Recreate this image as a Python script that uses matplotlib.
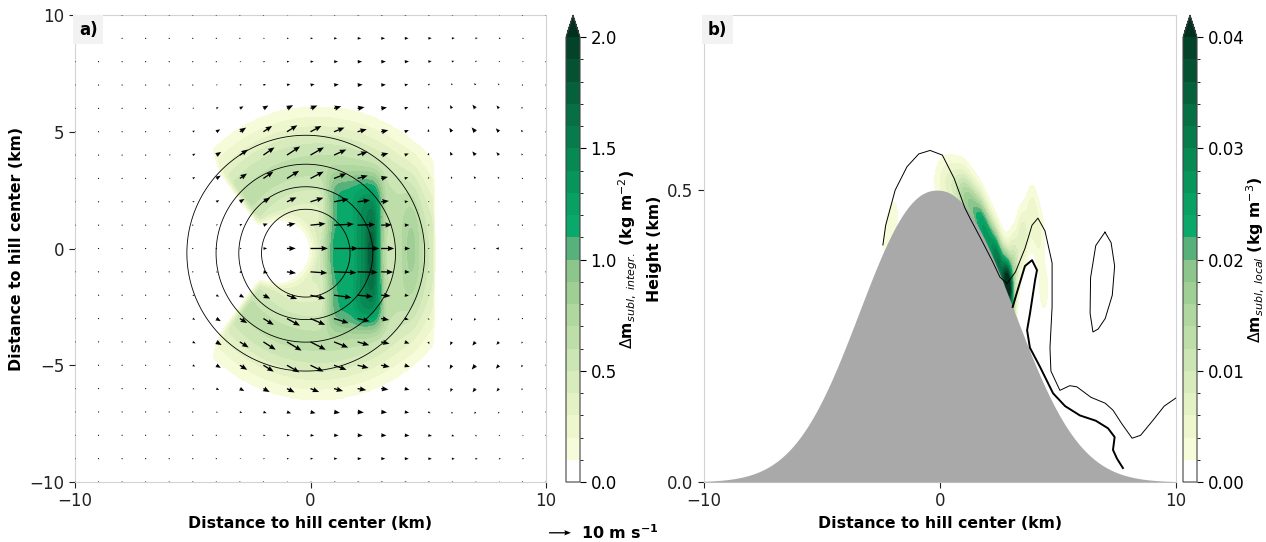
import numpy as np
import matplotlib.pyplot as plt
from matplotlib.colors import ListedColormap, BoundaryNorm

# ---------------- values ----------------
# hill (Gaussian), panel a contour levels (km)
hill_height = 0.5
hill_center_a = (-0.2, -0.2)
hill_width_a = 3.98
hill_levels = [0.1, 0.2, 0.3, 0.4]
hill_center_b = -0.13
hill_width_b = 4.35
hill_power_b = 2.2

# colour steps of the green scale (one per level band)
green_colors = ["#ffffff", "#f6fbd9", "#eef6cd", "#e4f1c5", "#d8ebbd", "#cbe5b4",
                "#bedea9", "#b0d79f", "#a0cf96", "#8cc68c", "#58b07b", "#0aa86b",
                "#09a064", "#08955c", "#078954", "#067c4c", "#066f44", "#05613b",
                "#045232", "#03432a"]
green_over = "#02301e"

# panel a: integrated sublimation, built from pieces
ring_center = (0.3, -0.2)
ring_radius = 3.8
ring_width = 1.9
ring_amp = 0.62
outer_cut = 6.3
right_cut = 5.35
# (x, y, sx, sy, amplitude, power)
blobs_a = [(1.85, -0.15, 1.15, 3.25, 0.75, 6),
           (2.5, -0.40, 0.60, 2.60, 0.30, 4),
           (2.6, -0.20, 0.22, 1.50, 0.40, 2),
           (4.3, 0.00, 0.40, 2.60, 0.22, 2),
           (0.5, -0.20, 1.50, 1.80, 0.50, 2)]
hole_center = (-1.25, -0.1)
hole_radius = 0.95
wedge_x = [-6.0, -4.5, -3.84, -3.0, -2.14, -1.2, -0.7, -0.4]
wedge_half = [7.0, 4.8, 3.2, 2.1, 0.9, 0.9, 0.6, 0.0]

# panel a: wind (m/s), pieces
# (x, y, sx, sy, u amplitude, v amplitude)
wind_blobs = [(1.3, -0.2, 2.1, 2.3, 10.5, 0.0),
              (-1.0, 3.8, 3.0, 2.2, 5.0, 4.0),
              (-1.0, -4.0, 3.0, 2.2, 5.5, -4.0),
              (2.5, 5.0, 3.0, 2.5, 2.5, 0.0),
              (2.5, -5.2, 3.0, 2.5, 3.0, 0.0),
              (6.8, 5.0, 2.5, 2.5, -2.4, 2.0),
              (6.8, -5.0, 2.5, 2.5, -2.4, -2.0),
              (8.0, 0.0, 2.0, 1.5, -1.8, 0.0),
              (4.0, 8.5, 5.0, 1.5, 1.4, 0.0),
              (4.0, -8.5, 5.0, 1.5, 1.4, 0.0)]

# panel b: local sublimation along the lee slope (x, amplitude, sx)
layer_x = [-2.1, 0.4, 1.2, 1.9, 2.5, 2.9]
layer_amp = [0.004, 0.006, 0.015, 0.023, 0.027, 0.034]
layer_sx = [0.35, 0.60, 0.50, 0.45, 0.35, 0.22]
# rising branch of the V (x, z, amplitude)
branch_x = [3.1, 3.5, 3.9, 4.2, 4.4]
branch_z = [0.37, 0.42, 0.46, 0.42, 0.33]
branch_amp = [0.012, 0.007, 0.005, 0.004, 0.003]

# panel b: contour lines (x km, z km)
thin_x = [-2.42, -2.3, -1.9, -1.4, -0.9, -0.42, 0.1, 0.6, 1.06, 1.27, 1.69, 2.2, 2.54, 2.84,
          3.2, 3.6, 3.9, 4.15, 4.45, 4.75, 4.75, 4.66, 4.7, 5.08, 5.5, 5.8, 6.4, 7.0, 7.33,
          7.7, 8.14, 8.5, 9.03, 9.5, 10.0]
thin_z = [0.406, 0.44, 0.50, 0.54, 0.562, 0.568, 0.56, 0.52, 0.469, 0.452, 0.42, 0.38, 0.351, 0.34,
          0.36, 0.40, 0.44, 0.452, 0.43, 0.375, 0.30, 0.23, 0.19, 0.157, 0.165, 0.163, 0.145, 0.135, 0.123,
          0.10, 0.075, 0.08, 0.106, 0.13, 0.144]
thick_x = [3.08, 3.3, 3.6, 3.9, 4.11, 4.03, 3.81, 3.69, 3.81, 4.24, 4.79, 5.3, 5.93, 6.6, 7.12,
           7.4, 7.33, 7.5, 7.75]
thick_z = [0.30, 0.33, 0.37, 0.38, 0.363, 0.346, 0.288, 0.26, 0.23, 0.197, 0.152, 0.13, 0.114,
           0.105, 0.092, 0.077, 0.055, 0.04, 0.024]
loop_x = [6.99, 7.25, 7.4, 7.3, 7.0, 6.7, 6.48, 6.36, 6.38, 6.6, 6.99]
loop_z = [0.428, 0.41, 0.37, 0.32, 0.28, 0.262, 0.257, 0.289, 0.35, 0.405, 0.428]

vector_key = 10  # m/s


def hill_a(x, y):
    r2 = (x - hill_center_a[0]) ** 2 + (y - hill_center_a[1]) ** 2
    return hill_height * np.exp(-r2 / hill_width_a ** 2)


def hill_b(x):
    d = np.abs(x - hill_center_b) / hill_width_b
    return hill_height * np.exp(-d ** hill_power_b)


def smooth(t):
    t = np.clip(t, 0, 1)
    return t * t * (3 - 2 * t)


# ---------------- panel a field ----------------
xa = np.linspace(-10, 10, 401)
ya = np.linspace(-10, 10, 401)
X, Y = np.meshgrid(xa, ya)
R = np.hypot(X - ring_center[0], Y - ring_center[1])
field_a = ring_amp * np.exp(-((R - ring_radius) / ring_width) ** 2)
for bx, by, sx, sy, amp, pw in blobs_a:
    field_a += amp * np.exp(-(np.abs((X - bx) / sx) ** pw + np.abs((Y - by) / sy) ** pw))
field_a *= (R < outer_cut) * smooth((right_cut - X) / 0.2)
dy = np.abs(Y - ring_center[1])
half = np.interp(X, wedge_x, wedge_half, left=wedge_half[0], right=0.0)
field_a *= np.where(X < wedge_x[-1], smooth((dy - half) / 0.7), 1.0)
dh = np.hypot(X - hole_center[0], Y - hole_center[1])
field_a *= smooth((dh - hole_radius) / 0.9)

# wind
xq = np.arange(-10, 11, 1.0)
yq = np.arange(-10, 11, 1.0)
XQ, YQ = np.meshgrid(xq, yq)
U = np.full_like(XQ, 0.4)
V = np.zeros_like(XQ)
for bx, by, sx, sy, ua, va in wind_blobs:
    g = np.exp(-((XQ - bx) / sx) ** 2 - ((YQ - by) / sy) ** 2)
    U += ua * g
    V += va * g

# ---------------- panel b field ----------------
xb = np.linspace(-10, 10, 801)
zb = np.linspace(0, 0.8, 401)
XB, ZB = np.meshgrid(xb, zb)
HB = hill_b(XB)
zeta = ZB - HB
amp_x = np.zeros_like(XB)
for lx, la, ls in zip(layer_x, layer_amp, layer_sx):
    amp_x += la * np.exp(-((XB - lx) / ls) ** 2)
field_b = amp_x * np.exp(-((zeta - 0.015) / 0.045) ** 2)
for bx, bz, ba in zip(branch_x, branch_z, branch_amp):
    field_b += ba * np.exp(-((XB - bx) / 0.25) ** 2 - ((ZB - bz) / 0.05) ** 2)

# ---------------- drawing ----------------
plt.rcParams['font.family'] = 'DejaVu Sans'
plt.rcParams['font.size'] = 12

cmap = ListedColormap(green_colors)
cmap.set_over(green_over)
levels_a = np.linspace(0, 2.0, 21)
levels_b = np.linspace(0, 0.04, 21)

fig = plt.figure(figsize=(12.66, 5.42), dpi=100)
ax1 = fig.add_axes([75 / 1266, 60 / 542, 471 / 1266, 467 / 542])
cax1 = fig.add_axes([566 / 1266, 60 / 542, 14 / 1266, 467 / 542])
ax2 = fig.add_axes([704 / 1266, 60 / 542, 472 / 1266, 467 / 542])
cax2 = fig.add_axes([1183 / 1266, 60 / 542, 14 / 1266, 467 / 542])

cf1 = ax1.contourf(X, Y, field_a, levels=levels_a, cmap=cmap,
                   norm=BoundaryNorm(levels_a, cmap.N), extend='max')
ax1.contour(X, Y, hill_a(X, Y), levels=hill_levels, colors='k', linewidths=0.6)
Q = ax1.quiver(XQ, YQ, U, V, scale=10.75, scale_units='xy', width=0.0028,
               headwidth=4, headlength=5, headaxislength=4.5, color='k', zorder=3)
ax1.quiverkey(Q, 0.451, 0.017, vector_key, r'$\mathbf{10\ m\ s^{-1}}$', labelpos='E',
              coordinates='figure', fontproperties={'weight': 'bold', 'size': 11.5})
ax1.set_xlim(-10, 10)
ax1.set_ylim(-10, 10)
ax1.set_xticks([-10, 0, 10])
ax1.set_yticks([-10, -5, 0, 5, 10])
ax1.set_xlabel('Distance to hill center (km)', fontweight='bold', fontsize=11.3)
ax1.set_ylabel('Distance to hill center (km)', fontweight='bold', fontsize=11.3)
ax1.text(0.008, 0.988, 'a)', transform=ax1.transAxes, ha='left', va='top',
         fontweight='bold', zorder=5,
         bbox=dict(boxstyle='square,pad=0.35', facecolor='#f2f2f2', edgecolor='none'))

cf2 = ax2.contourf(XB, ZB, field_b, levels=levels_b, cmap=cmap,
                   norm=BoundaryNorm(levels_b, cmap.N), extend='max')
ax2.fill_between(xb, 0, hill_b(xb), color='#a9a9a9', lw=0, zorder=3)
ax2.plot(thin_x, thin_z, color='k', lw=0.7, zorder=4)
ax2.plot(loop_x, loop_z, color='k', lw=0.7, zorder=4)
ax2.plot(thick_x, thick_z, color='k', lw=1.4, zorder=4)
ax2.set_xlim(-10, 10)
ax2.set_ylim(0, 0.8)
ax2.set_xticks([-10, 0, 10])
ax2.set_yticks([0.0, 0.5])
ax2.set_xlabel('Distance to hill center (km)', fontweight='bold', fontsize=11.3)
ax2.set_ylabel('Height (km)', fontweight='bold', fontsize=11.3)
ax2.text(0.008, 0.988, 'b)', transform=ax2.transAxes, ha='left', va='top',
         fontweight='bold', zorder=5,
         bbox=dict(boxstyle='square,pad=0.35', facecolor='#f2f2f2', edgecolor='none'))

for ax in (ax1, ax2):
    for sp in ax.spines.values():
        sp.set_color('#d3d3d3')
    ax.tick_params(colors='#222222', length=4, width=0.8)

cb1 = fig.colorbar(cf1, cax=cax1, ticks=[0, 0.5, 1.0, 1.5, 2.0])
cb1.ax.set_yticklabels(['0.0', '0.5', '1.0', '1.5', '2.0'])
cb1.set_label(r'$\Delta$m$_{subl,\ integr.}$ (kg m$^{-2}$)', fontweight='bold',
              fontsize=11.3, labelpad=0)
cb2 = fig.colorbar(cf2, cax=cax2, ticks=[0, 0.01, 0.02, 0.03, 0.04])
cb2.ax.set_yticklabels(['0.00', '0.01', '0.02', '0.03', '0.04'])
cb2.set_label(r'$\Delta$m$_{subl,\ local}$ (kg m$^{-3}$)', fontweight='bold',
              fontsize=11.3, labelpad=0)
for cb in (cb1, cb2):
    cb.outline.set_edgecolor('#444444')
    cb.ax.tick_params(length=4, width=0.8)

fig.savefig('out.png', dpi=100)
